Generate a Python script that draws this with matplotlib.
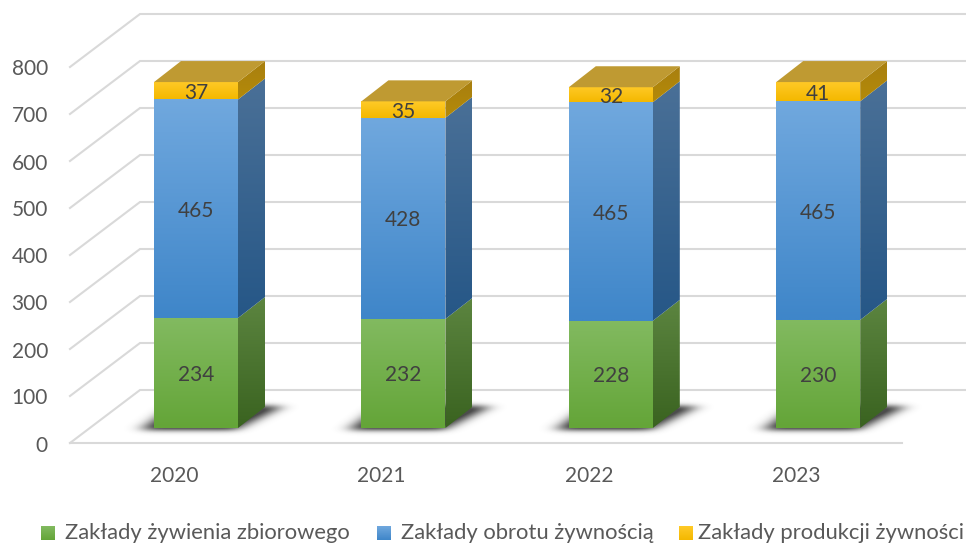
import matplotlib
matplotlib.use("Agg")
import matplotlib.pyplot as plt
import numpy as np
from matplotlib.patches import Polygon

plt.rcParams['font.family'] = ['Lato', 'DejaVu Sans']

# Data
years = ['2020', '2021', '2022', '2023']
zbiorowe = [234, 232, 228, 230]
obrot = [465, 428, 465, 465]
produkcja = [37, 35, 32, 41]
series_names = ['Zakłady żywienia zbiorowego', 'Zakłady obrotu żywnością', 'Zakłady produkcji żywności']
y_ticks = [0, 100, 200, 300, 400, 500, 600, 700, 800]

# Colours: front top, front bottom, side top, side bottom
green = ('#82ba60', '#64a538', '#5c8540', '#3a6320')
blue = ('#70a8de', '#3f86c9', '#4a7097', '#265787')
yellow = ('#ffca28', '#f4b800', '#a87f10', '#b48a08')
cap_colour = '#bf9a32'
grid_colour = '#d9d9d9'

# Layout in pixels of the 966x544 picture
W, H = 966, 544
PX_PER_VALUE = 0.47
BASE_Y = 428      # pixel row of value 0 on the bar front
STEP = 207.4      # pixels between categories
X0 = 196          # pixel column of first bar centre
BAR_W = 84
DEPTH_X, DEPTH_Y = 27, 21
TEXT_DROP = 2     # Lato sits higher than the original font

fig = plt.figure(figsize=(W / 100, H / 100), dpi=100)
ax = fig.add_axes([0, 0, 1, 1])
ax.axis('off')


def col(px):
    return (px - X0) / STEP


def val(py):
    return (BASE_Y - py) / PX_PER_VALUE


def rgb(c):
    return np.array(matplotlib.colors.to_rgb(c))


def fill_gradient(corners, c_top, c_bottom, z):
    # vertical gradient clipped to a polygon
    pts = np.array(corners)
    xmin, xmax = pts[:, 0].min(), pts[:, 0].max()
    ymin, ymax = pts[:, 1].min(), pts[:, 1].max()
    t = np.linspace(0, 1, 64)[:, None, None]
    img = (1 - t) * rgb(c_top) + t * rgb(c_bottom)
    im = ax.imshow(img, extent=(xmin, xmax, ymin, ymax), origin='upper', aspect='auto',
                   zorder=z, interpolation='bilinear')
    im.set_clip_path(Polygon(pts, closed=True, transform=ax.transData))


dx = DEPTH_X / STEP
dy = DEPTH_Y / PX_PER_VALUE
half = BAR_W / 2 / STEP
drop = TEXT_DROP / PX_PER_VALUE

# Wall and floor gridlines
for v in y_ticks:
    ax.plot([col(70), col(140), col(966)],
            [val(443 - v * PX_PER_VALUE), val(390 - v * PX_PER_VALUE), val(390 - v * PX_PER_VALUE)],
            color=grid_colour, lw=1.5, zorder=1, solid_joinstyle='miter')
    ax.text(col(48), val(443.5 - v * PX_PER_VALUE) - drop, str(v), ha='right', va='center',
            fontsize=15, color='#595959', zorder=10)
ax.plot([col(70), col(902)], [val(443), val(443)], color=grid_colour, lw=1.5, zorder=1)

# Blurred floor shadows, rasterised from the bar footprint
yy, xx = np.mgrid[0:H, 0:W]
alpha = np.zeros((H, W))
for i in range(len(years)):
    left = X0 + i * STEP - BAR_W / 2
    right = left + BAR_W
    edge_l = left - 14 + (430 - yy) * 1.33
    edge_r = right + (428 - yy) * 2.0
    inside = (yy > 405) & (yy < 430) & (xx > edge_l) & (xx < edge_r)
    alpha[inside] = 1.0
kernel = np.exp(-0.5 * (np.arange(-24, 25) / 8.0) ** 2)
kernel /= kernel.sum()
alpha = np.apply_along_axis(lambda r: np.convolve(r, kernel, mode='same'), 1, alpha)
kernel_y = np.exp(-0.5 * (np.arange(-9, 10) / 2.5) ** 2)
kernel_y /= kernel_y.sum()
alpha = np.apply_along_axis(lambda c: np.convolve(c, kernel_y, mode='same'), 0, alpha)
shadow = np.zeros((H, W, 4))
shadow[..., :3] = 0.22
shadow[..., 3] = np.clip(alpha * 1.1, 0, 0.9)
ax.imshow(shadow, extent=(col(0), col(W), val(H), val(0)), origin='upper', aspect='auto', zorder=2)

# Bars
for i, year in enumerate(years):
    bottom = 0
    for values, colours in zip((zbiorowe, obrot, produkcja), (green, blue, yellow)):
        v = values[i]
        top = bottom + v
        x1, x2 = i - half, i + half
        fill_gradient([(x1, bottom), (x2, bottom), (x2, top), (x1, top)], colours[0], colours[1], 4)
        fill_gradient([(x2, bottom), (x2 + dx, bottom + dy), (x2 + dx, top + dy), (x2, top)],
                      colours[2], colours[3], 3.5)
        ax.text(i, bottom + v / 2 - drop, str(v), ha='center', va='center', fontsize=15, color='#404040', zorder=6)
        bottom = top
    ax.add_patch(Polygon([(x1, bottom), (x2, bottom), (x2 + dx, bottom + dy), (x1 + dx, bottom + dy)],
                         closed=True, facecolor=cap_colour, edgecolor='none', zorder=5))
    ax.text(col(X0 - 22) + i, val(475) - drop / 2, year, ha='center', va='center', fontsize=15, color='#595959')

# Legend
swatch_x = [41, 377, 679]
text_x = [65, 401, 698]
swatch_colours = [green, blue, yellow]
for name, sx, tx, colours in zip(series_names, swatch_x, text_x, swatch_colours):
    fill_gradient([(col(sx), val(540)), (col(sx + 14), val(540)), (col(sx + 14), val(526)), (col(sx), val(526))],
                  colours[0], colours[1], 4)
    ax.text(col(tx), val(533), name, ha='left', va='center', fontsize=15.8, color='#595959')

ax.set_xlim(col(0), col(W))
ax.set_ylim(val(H), val(0))

fig.savefig('out.png', dpi=100, facecolor='white')
